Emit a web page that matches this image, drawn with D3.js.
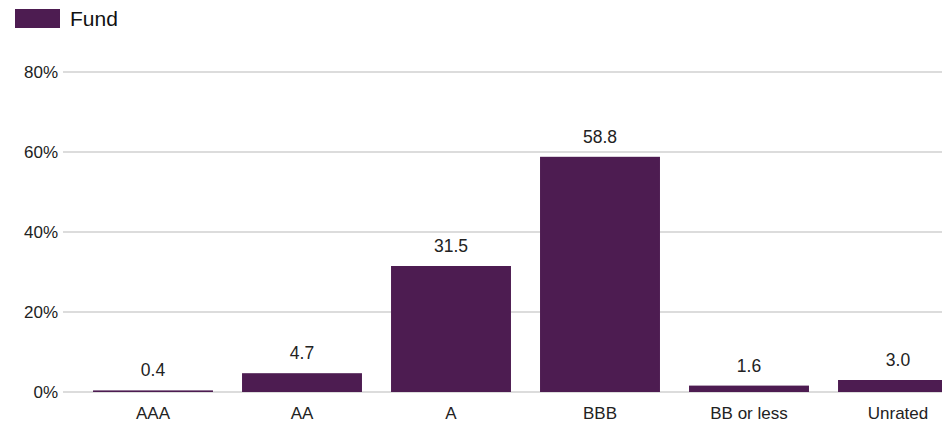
<!DOCTYPE html>
<html>
<head>
<meta charset="utf-8">
<script src="https://cdn.jsdelivr.net/npm/d3@7"></script>
<style>
  body { margin: 0; background: #fff; }
  svg { display: block; font-family: "Liberation Sans", Arial, sans-serif; }
  .grid line { stroke: #dcdcdc; stroke-width: 2; }
</style>
</head>
<body>
<div id="chart"></div>
<script>
// data
var categories = ["AAA", "AA", "A", "BBB", "BB or less", "Unrated"];
var fundValues = [0.4, 4.7, 31.5, 58.8, 1.6, 3.0];
var yTicks = [0, 20, 40, 60, 80];
var seriesName = "Fund";

var width = 942, height = 424;
var color = "#4d1c51";

var svg = d3.select("#chart").append("svg")
  .attr("width", width)
  .attr("height", height);

var y = d3.scaleLinear().domain([0, 80]).range([392, 72]);
var x = d3.scaleBand()
  .domain(categories)
  .range([78.5, 972.5])
  .paddingInner(0.195)
  .paddingOuter(0.0975);

// gridlines
svg.append("g").attr("class", "grid")
  .selectAll("line")
  .data(yTicks)
  .enter().append("line")
  .attr("x1", 63).attr("x2", width)
  .attr("y1", function (d) { return y(d); })
  .attr("y2", function (d) { return y(d); });

// y labels
svg.append("g")
  .selectAll("text")
  .data(yTicks)
  .enter().append("text")
  .attr("x", 58)
  .attr("y", function (d) { return y(d); })
  .attr("dy", "0.35em")
  .attr("text-anchor", "end")
  .attr("font-size", 17)
  .attr("fill", "#222")
  .text(function (d) { return d + "%"; });

// bars
var data = categories.map(function (c, i) { return { cat: c, v: fundValues[i] }; });
svg.append("g")
  .selectAll("rect")
  .data(data)
  .enter().append("rect")
  .attr("x", function (d) { return x(d.cat); })
  .attr("width", x.bandwidth())
  .attr("y", function (d) { return y(d.v); })
  .attr("height", function (d) { return y(0) - y(d.v); })
  .attr("fill", color);

// value labels
svg.append("g")
  .selectAll("text")
  .data(data)
  .enter().append("text")
  .attr("x", function (d) { return x(d.cat) + x.bandwidth() / 2; })
  .attr("y", function (d) { return y(d.v) - 14; })
  .attr("text-anchor", "middle")
  .attr("font-size", 17.5)
  .attr("fill", "#222")
  .text(function (d) { return d.v.toFixed(1); });

// x labels
svg.append("g")
  .selectAll("text")
  .data(categories)
  .enter().append("text")
  .attr("x", function (d) { return x(d) + x.bandwidth() / 2; })
  .attr("y", 419)
  .attr("text-anchor", "middle")
  .attr("font-size", 17)
  .attr("fill", "#222")
  .text(function (d) { return d; });

// legend
svg.append("rect")
  .attr("x", 15).attr("y", 9)
  .attr("width", 45).attr("height", 19)
  .attr("fill", color);
svg.append("text")
  .attr("x", 70).attr("y", 19)
  .attr("dy", "0.35em")
  .attr("font-size", 21)
  .attr("fill", "#111")
  .text(seriesName);
</script>
</body>
</html>
